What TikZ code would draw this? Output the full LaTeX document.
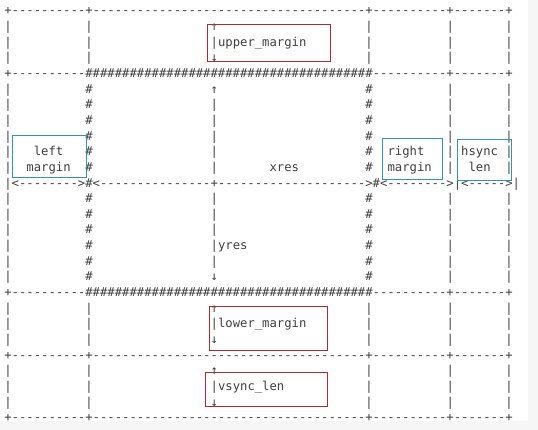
\documentclass[tikz,border=0pt]{standalone}
\usepackage{fontspec}
\newfontfamily\ascfont{DejaVu Sans Mono}
\ExplSyntaxOn
\cs_new:Npn \myrep #1#2 { \prg_replicate:nn {#1} {#2\kern0pt} }
\ExplSyntaxOff
\definecolor{inkgray}{RGB}{64,64,64}
\definecolor{boxred}{RGB}{178,40,50}
\definecolor{boxblue}{RGB}{48,148,185}
\definecolor{stripgray}{RGB}{246,246,246}
\tikzset{
  asc/.style={anchor=base west, inner sep=0pt, outer sep=0pt,
    font=\ascfont\fontsize{12.24}{15}\selectfont, text=inkgray},
  redbox/.style={draw=boxred, line width=1pt, inner sep=0pt, rectangle},
  bluebox/.style={draw=boxblue, line width=1pt, inner sep=0pt, rectangle}
}
% place text at row #2, column #3
\newcommand{\putc}[4]{\node[asc] (#1) at ({4.3+7.37*#3},{9.3+15.65*#2+5.6}) {#4};}
\begin{document}
\begin{tikzpicture}[x=1pt,y=-1pt]
\useasboundingbox (0,0) rectangle (538,430);
\fill[white] (0,0) rectangle (538,430);
\fill[stripgray] (528,0) rectangle (538,430);
\fill[stripgray] (0,421) rectangle (538,430);

% horizontal border rows
\putc{r0}{0}{0}{+\myrep{10}{-}+\myrep{37}{-}+\myrep{10}{-}+\myrep{7}{-}+}
\putc{r4}{4}{0}{+\myrep{10}{-}\myrep{39}{\#}\myrep{10}{-}+\myrep{7}{-}+}
\putc{r18}{18}{0}{+\myrep{10}{-}\myrep{39}{\#}\myrep{10}{-}+\myrep{7}{-}+}
\putc{r22}{22}{0}{+\myrep{10}{-}+\myrep{37}{-}+\myrep{10}{-}+\myrep{7}{-}+}
\putc{r26}{26}{0}{+\myrep{10}{-}+\myrep{37}{-}+\myrep{10}{-}+\myrep{7}{-}+}

% outer rows (plain verticals)
\foreach \r in {1,2,3,19,20,21,23,24,25}{
  \putc{a\r}{\r}{0}{|}
  \putc{b\r}{\r}{11}{|}
  \putc{c\r}{\r}{49}{|}
  \putc{d\r}{\r}{60}{|}
  \putc{e\r}{\r}{68}{|}
}
% inner rows (hash verticals)
\foreach \r in {5,6,7,8,9,10,12,13,14,15,16,17}{
  \putc{a\r}{\r}{0}{|}
  \putc{b\r}{\r}{11}{\#}
  \putc{c\r}{\r}{49}{\#}
  \putc{d\r}{\r}{60}{|}
  \putc{e\r}{\r}{68}{|}
}
% middle column
\putc{m1}{1}{28}{↑}
\putc{m2}{2}{28}{|upper\_margin}
\putc{m3}{3}{28}{↓}
\putc{m5}{5}{28}{↑}
\foreach \r in {6,7,8,9,10,12,13,14,16}{\putc{m\r}{\r}{28}{|}}
\putc{m15}{15}{28}{|yres}
\putc{m17}{17}{28}{↓}
\putc{m19}{19}{28}{↑}
\putc{m20}{20}{28}{|lower\_margin}
\putc{m21}{21}{28}{↓}
\putc{m23}{23}{28}{↑}
\putc{m24}{24}{28}{|vsync\_len}
\putc{m25}{25}{28}{↓}

% labels
\putc{lft}{9}{4}{left}
\putc{lmg}{10}{3}{margin}
\putc{xres}{10}{36}{xres}
\putc{rgt}{9}{52}{right}
\putc{rmg}{10}{52}{margin}
\putc{hs}{9}{62}{hsync}
\putc{hl}{10}{63}{len}

% arrow row
\putc{r11}{11}{0}{|<\myrep{8}{-}>\#<\myrep{15}{-}+\myrep{20}{-}>\#<\myrep{8}{-}>|<\myrep{5}{-}>|}

% highlight boxes
\node[redbox, minimum width=123pt, minimum height=37pt] (upbox) at (268.5,43.5) {};
\node[redbox, minimum width=118pt, minimum height=43pt] (lowbox) at (268,328.5) {};
\node[redbox, minimum width=122pt, minimum height=34pt] (vsbox) at (266,389) {};
\node[bluebox, minimum width=74pt, minimum height=42pt] (lbox) at (49,157) {};
\node[bluebox, minimum width=60pt, minimum height=41pt] (rbox) at (412,159.5) {};
\node[bluebox, minimum width=54pt, minimum height=41pt] (hbox) at (484,160.5) {};
\end{tikzpicture}
\end{document}
